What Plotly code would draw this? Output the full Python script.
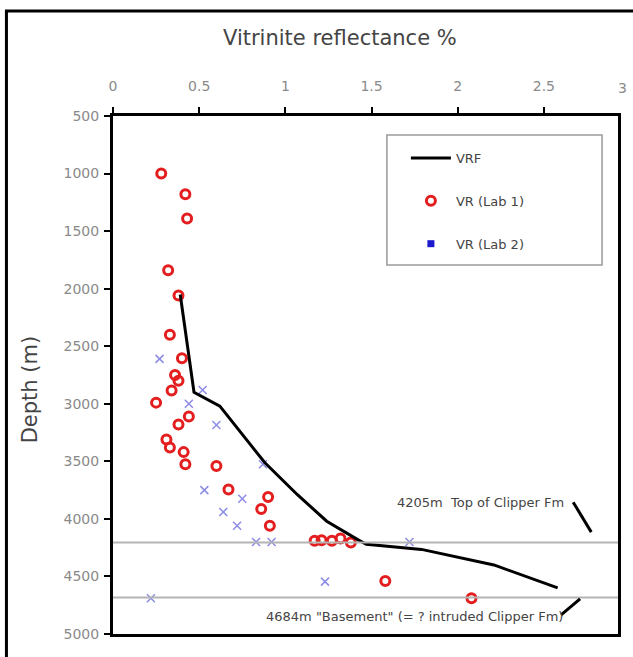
import plotly.graph_objects as go

# Vitrinite reflectance fit (VRF) curve
vrf_x = [0.39, 0.47, 0.62, 0.88, 1.07, 1.24, 1.42, 1.47, 1.79, 2.21, 2.58]
vrf_depth = [2050, 2900, 3020, 3510, 3790, 4020, 4180, 4220, 4265, 4400, 4600]

# Measured vitrinite reflectance, laboratory 1
lab1_x = [0.28, 0.42, 0.43, 0.32, 0.38, 0.33, 0.40, 0.36, 0.38, 0.34, 0.25,
          0.44, 0.38, 0.31, 0.33, 0.41, 0.42, 0.60, 0.67, 0.90, 0.86, 0.91,
          1.17, 1.21, 1.27, 1.32, 1.38, 1.58, 2.08]
lab1_depth = [1000, 1180, 1390, 1840, 2060, 2400, 2605, 2750, 2800, 2885, 2990,
              3110, 3180, 3310, 3380, 3420, 3525, 3540, 3745, 3810, 3915, 4060,
              4190, 4185, 4190, 4170, 4205, 4540, 4690]

# Measured vitrinite reflectance, laboratory 2
lab2_x = [0.27, 0.52, 0.44, 0.60, 0.87, 0.53, 0.75, 0.64, 0.72, 0.83, 0.92,
          1.72, 1.23, 0.22]
lab2_depth = [2610, 2880, 3000, 3185, 3525, 3750, 3825, 3940, 4060, 4200, 4200,
              4200, 4545, 4690]

# Formation tops
top_clipper = 4205
top_basement = 4684

x_ticks = [0, 0.5, 1, 1.5, 2, 2.5, 3]
y_ticks = [500, 1000, 1500, 2000, 2500, 3000, 3500, 4000, 4500, 5000]
x_max = 2.93

FONT = "DejaVu Sans"
TICK_GREY = "#8a8a8a"
TEXT_GREY = "#444444"

fig = go.Figure()

fig.add_trace(go.Scatter(
    x=lab1_x, y=lab1_depth, mode="markers", name="VR (Lab 1)",
    legendgroup="b", legendrank=2,
    marker=dict(symbol="circle-open", size=9, color="#e41e1e",
                line=dict(width=3, color="#e41e1e")),
))
fig.add_trace(go.Scatter(
    x=lab2_x, y=lab2_depth, mode="markers", name="VR (Lab 2)",
    showlegend=False,
    marker=dict(symbol="x-thin-open", size=8, color="#8c8ce6",
                line=dict(width=1.5, color="#8c8ce6")),
))
# legend swatch for the lab 2 samples
fig.add_trace(go.Scatter(
    x=[None], y=[None], mode="markers", name="VR (Lab 2)",
    legendgroup="c", legendrank=3,
    marker=dict(symbol="square", size=7, color="#1a1acc"),
))
fig.add_trace(go.Scatter(
    x=vrf_x, y=vrf_depth, mode="lines", name="VRF",
    legendgroup="a", legendrank=1,
    line=dict(color="black", width=3),
))

axis_common = dict(
    showline=True, linecolor="black", linewidth=3, mirror=True,
    ticks="outside", ticklen=6, tickwidth=2, tickcolor="black",
    showgrid=False, zeroline=False,
    tickfont=dict(family=FONT, size=14, color=TICK_GREY),
)

fig.update_xaxes(
    side="top", range=[0, x_max], tickvals=x_ticks[:-1],
    ticktext=[f"{v:g}" for v in x_ticks[:-1]], ticklabelstandoff=10,
    **axis_common,
)
fig.update_yaxes(
    range=[5000, 500], tickvals=y_ticks, ticktext=[str(v) for v in y_ticks],
    ticklabelstandoff=2, **axis_common,
)

shapes = [
    # formation tops
    dict(type="line", xref="paper", x0=0, x1=1, yref="y",
         y0=top_clipper, y1=top_clipper, line=dict(color="#b4b4b4", width=2)),
    dict(type="line", xref="paper", x0=0, x1=1, yref="y",
         y0=top_basement, y1=top_basement, line=dict(color="#b4b4b4", width=2)),
    # leaders from labels to the tops
    dict(type="line", xref="x", yref="y", x0=2.67, y0=top_clipper - 350,
         x1=2.775, y1=top_clipper - 90, line=dict(color="black", width=3)),
    dict(type="line", xref="x", yref="y", x0=2.60, y0=top_basement + 150,
         x1=2.71, y1=top_basement + 10, line=dict(color="black", width=3)),
    # legend box
    dict(type="rect", xref="paper", yref="paper", x0=0.5424, x1=0.9684,
         y0=0.7124, y1=0.9633, line=dict(color="#9a9a9a", width=1.5),
         fillcolor="white", layer="below"),
    # outer frame
    dict(type="rect", xref="paper", yref="paper", x0=-0.211, x1=1.2,
         y0=-0.2, y1=1.2027, line=dict(color="black", width=3)),
]

annotations = [
    dict(text="Vitrinite reflectance %", xref="paper", yref="paper",
         x=0.4497, y=1.1506, showarrow=False, xanchor="center", yanchor="middle",
         font=dict(family=FONT, size=21, color=TEXT_GREY)),
    dict(text="Depth (m)", xref="paper", yref="paper", x=-0.1637, y=0.471,
         textangle=-90, showarrow=False, xanchor="center", yanchor="middle",
         font=dict(family=FONT, size=21, color=TEXT_GREY)),
    # last x tick label sits just past the frame
    dict(text=f"{x_ticks[-1]:g}", xref="paper", yref="paper",
         x=x_ticks[-1] / x_max, y=1.0, xshift=-8, yshift=28, showarrow=False,
         xanchor="center", yanchor="middle",
         font=dict(family=FONT, size=14, color=TICK_GREY)),
    dict(text=f"{top_clipper}m  Top of Clipper Fm", xref="x", yref="y",
         x=2.63, y=top_clipper - 345, showarrow=False, xanchor="right",
         yanchor="middle", font=dict(family=FONT, size=13, color=TEXT_GREY)),
    dict(text=f"{top_basement}m \"Basement\" (= ? intruded Clipper Fm)",
         xref="x", yref="y", x=2.62, y=top_basement + 160, showarrow=False,
         xanchor="right", yanchor="middle",
         font=dict(family=FONT, size=13, color=TEXT_GREY)),
]

fig.update_layout(
    width=633, height=657,
    margin=dict(l=113, r=13, t=116, b=23, pad=0),
    paper_bgcolor="white", plot_bgcolor="white",
    showlegend=True,
    legend=dict(x=0.58, y=0.948, xanchor="left", yanchor="top",
                bgcolor="rgba(0,0,0,0)", borderwidth=0,
                tracegroupgap=23, itemwidth=40,
                font=dict(family=FONT, size=13, color=TEXT_GREY)),
    shapes=shapes, annotations=annotations,
)

fig.write_html("out.html")
